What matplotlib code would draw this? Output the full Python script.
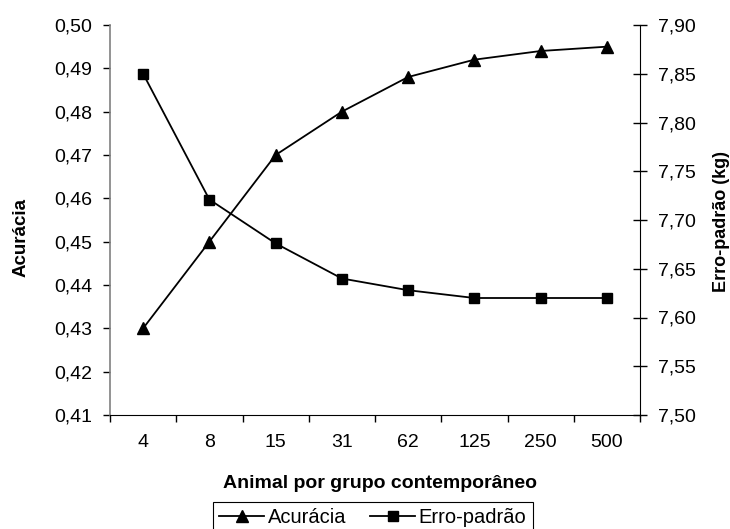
import matplotlib
matplotlib.use("Agg")
import matplotlib.pyplot as plt
from matplotlib.lines import Line2D
from matplotlib.ticker import FuncFormatter, FixedLocator

plt.rcParams['font.family'] = ['Liberation Sans', 'DejaVu Sans']

# data
grupos = ['4', '8', '15', '31', '62', '125', '250', '500']
acuracia = [0.430, 0.450, 0.470, 0.480, 0.488, 0.492, 0.494, 0.495]
erro_padrao = [7.850, 7.721, 7.676, 7.640, 7.628, 7.620, 7.620, 7.620]

x = list(range(len(grupos)))
virgula = FuncFormatter(lambda v, pos: f"{v:.2f}".replace('.', ','))

fig = plt.figure(figsize=(7.30, 5.29), dpi=100)
ax = fig.add_axes([110 / 730, 1 - 415 / 529, 530 / 730, 390 / 529])
ax2 = ax.twinx()

# left axis: accuracy
ax.plot(x, acuracia, color='black', lw=1.3, marker='^', ms=8.5, zorder=3)
ax.set_ylim(0.41, 0.50)
ax.set_yticks([0.41 + 0.01 * i for i in range(10)])
ax.yaxis.set_major_formatter(virgula)
ax.set_xlim(-0.5, len(grupos) - 0.5)

# x ticks: marks between categories, labels at centres
ax.xaxis.set_major_locator(FixedLocator([i - 0.5 for i in range(len(grupos) + 1)]))
ax.xaxis.set_minor_locator(FixedLocator(x))
ax.set_xticklabels([], minor=False)
ax.set_xticklabels(grupos, minor=True)
ax.tick_params(axis='x', which='major', length=5, width=1, direction='out', colors='black')
ax.tick_params(axis='x', which='minor', length=0, labelsize=14, pad=14)
ax.tick_params(axis='y', length=5, width=1, direction='out', labelsize=14, pad=8)

# right axis: standard error
ax2.plot(x, erro_padrao, color='black', lw=1.3, marker='s', ms=7, zorder=3)
ax2.set_ylim(7.50, 7.90)
ax2.set_yticks([7.50 + 0.05 * i for i in range(9)])
ax2.yaxis.set_major_formatter(virgula)
ax2.tick_params(axis='y', length=10, width=1, direction='inout', labelsize=14, pad=8)

for a in (ax, ax2):
    a.spines['top'].set_visible(False)
ax.spines['right'].set_visible(False)
ax.spines['left'].set_color('#808080')
ax.spines['left'].set_linewidth(1.2)
ax.spines['bottom'].set_color('black')
ax2.spines['left'].set_visible(False)
ax2.spines['bottom'].set_visible(False)
ax2.spines['right'].set_color('black')

fig.text(21 / 730, 1 - 237 / 529, 'Acurácia', rotation=90, fontsize=13.5,
         fontweight='bold', ha='center', va='center')
fig.text(722 / 730, 1 - 222 / 529, 'Erro-padrão (kg)', rotation=90, fontsize=13,
         fontweight='bold', ha='center', va='center')
fig.text(380 / 730, 1 - 483 / 529, 'Animal por grupo contemporâneo', fontsize=14,
         fontweight='bold', ha='center', va='center')

handles = [
    Line2D([], [], color='black', lw=1.3, marker='^', ms=8),
    Line2D([], [], color='black', lw=1.3, marker='s', ms=6.5),
]
leg = fig.legend(handles, ['Acurácia', 'Erro-padrão'], loc='upper center',
                 bbox_to_anchor=(373 / 730, 1 - 502 / 529), ncol=2, fontsize=14.5,
                 frameon=True, fancybox=False, framealpha=1, edgecolor='black',
                 handlelength=2.2, handletextpad=0.2, columnspacing=1.2,
                 borderpad=0.3, borderaxespad=0)
leg.get_frame().set_linewidth(0.8)

fig.savefig('out.png', dpi=100)
